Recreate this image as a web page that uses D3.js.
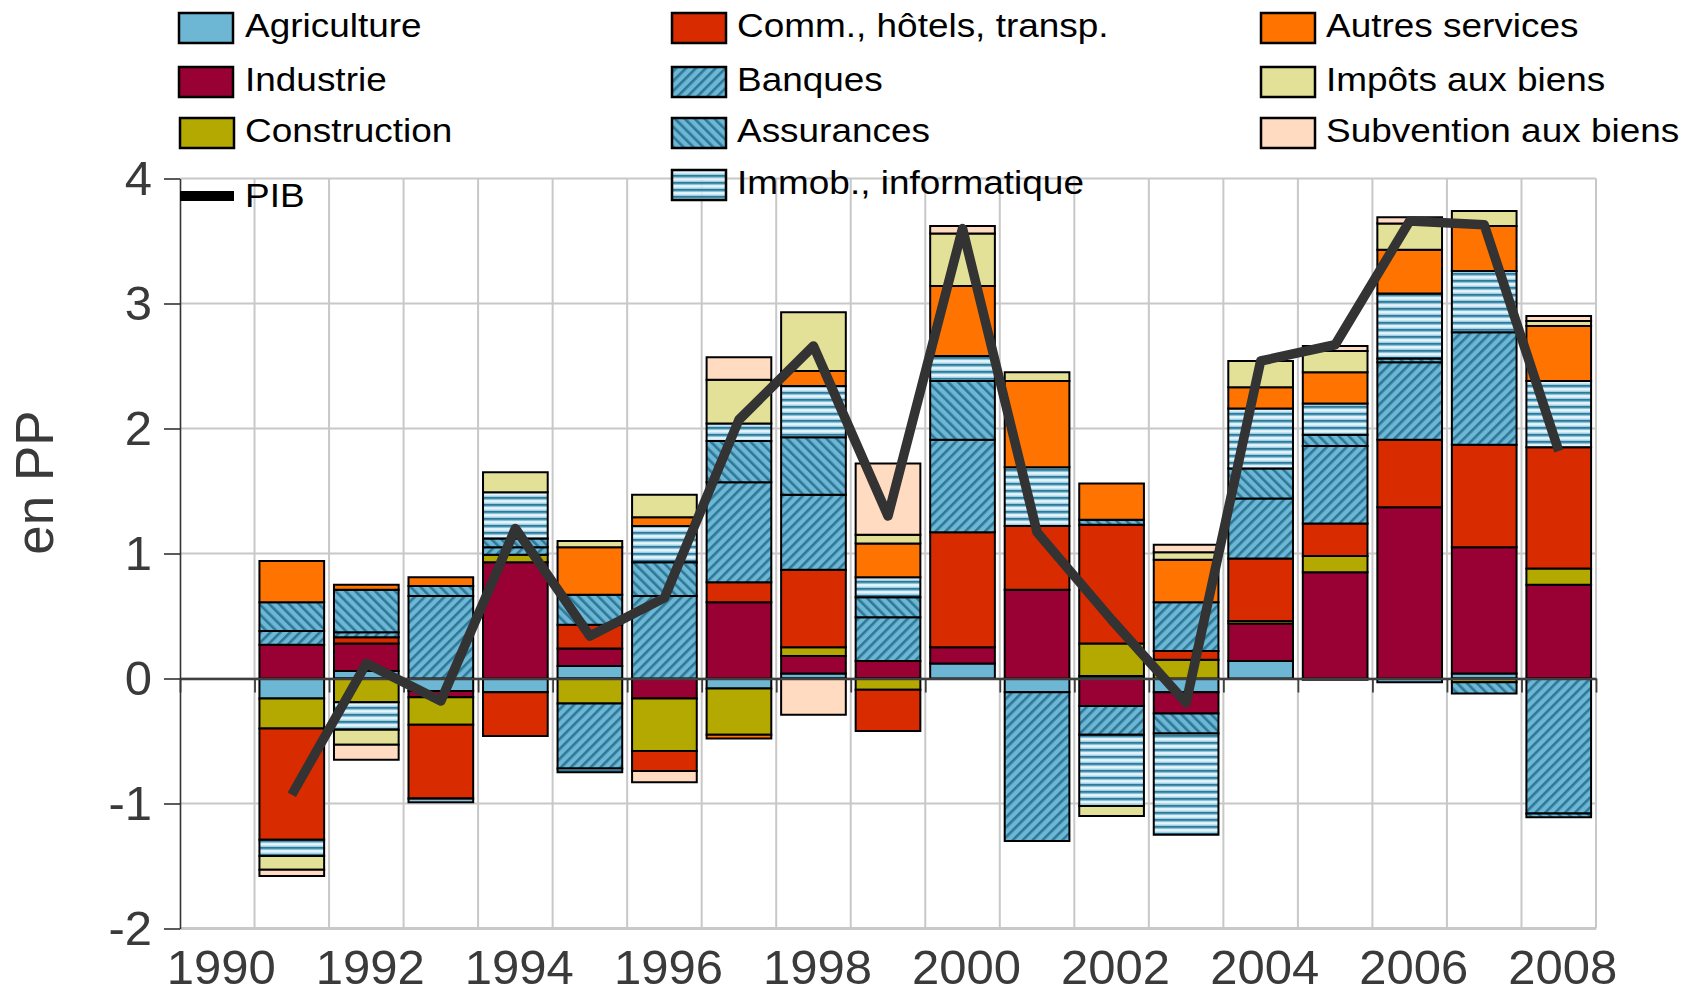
<!DOCTYPE html>
<html><head><meta charset="utf-8">
<script src="https://cdn.jsdelivr.net/npm/d3@7"></script>
<style>body{margin:0;background:#fff;} svg{display:block;font-family:"Liberation Sans",Arial,sans-serif;}</style>
</head><body><svg id="chart" width="1702" height="995"></svg>
<script>
// ---------- DATA ----------
const categories = ["1990","1991","1992","1993","1994","1995","1996","1997","1998","1999","2000","2001","2002","2003","2004","2005","2006","2007","2008"];
const years = ["1991","1992","1993","1994","1995","1996","1997","1998","1999","2000","2001","2002","2003","2004","2005","2006","2007","2008"];
const xLabels = ["1990","1992","1994","1996","1998","2000","2002","2004","2006","2008"];
const yTicks = [-2,-1,0,1,2,3,4];

const agriculture  = [-0.16, 0.06,-0.10,-0.11, 0.10, 0.00,-0.08, 0.04, 0.00, 0.12,-0.11, 0.02,-0.11, 0.14,-0.01,-0.03, 0.04, 0.00];
const industrie    = [ 0.27, 0.22,-0.05, 0.93, 0.14,-0.16, 0.61, 0.14, 0.14, 0.13, 0.71,-0.22,-0.17, 0.30, 0.85, 1.37, 1.01, 0.75];
const construction = [-0.24,-0.19,-0.22, 0.06,-0.20,-0.42,-0.37, 0.07,-0.09, 0.00, 0.00, 0.26, 0.15, 0.02, 0.13, 0.00,-0.03, 0.13];
const commerce     = [-0.89, 0.05,-0.59,-0.35, 0.19,-0.16, 0.16, 0.62,-0.33, 0.92, 0.51, 0.95, 0.07, 0.50, 0.26, 0.54, 0.82, 0.97];
const banques      = [ 0.11, 0.04, 0.66, 0.06,-0.52, 0.66, 0.80, 0.60, 0.35, 0.74,-1.19,-0.23, 0.39, 0.48, 0.62, 0.62, 0.90,-1.08];
const assurances   = [ 0.23, 0.34, 0.08, 0.07, 0.24, 0.27, 0.33, 0.46, 0.16, 0.47, 0.00, 0.04,-0.16, 0.24, 0.09, 0.03,-0.09,-0.03];
const immobilier   = [-0.13,-0.22,-0.03, 0.37,-0.03, 0.29, 0.14, 0.41, 0.16, 0.20, 0.47,-0.57,-0.81, 0.48, 0.25, 0.52, 0.49, 0.53];
const autresServ   = [ 0.33, 0.04, 0.07, 0.00, 0.38, 0.07,-0.03, 0.12, 0.27, 0.56, 0.69, 0.29, 0.34, 0.17, 0.25, 0.35, 0.36, 0.44];
const impots       = [-0.11,-0.12, 0.00, 0.16, 0.05, 0.18, 0.35, 0.47, 0.07, 0.42, 0.07,-0.08, 0.06, 0.21, 0.17, 0.21, 0.12, 0.04];
const subventions  = [-0.05,-0.12, 0.00, 0.00, 0.00,-0.09, 0.18,-0.29, 0.57, 0.06, 0.00, 0.00, 0.06, 0.00, 0.04, 0.05, 0.00, 0.04];
const pib          = [-0.93, 0.12,-0.18, 1.20, 0.34, 0.645,2.07, 2.66, 1.30, 3.60, 1.17, 0.47,-0.195,2.54, 2.67, 3.66, 3.63, 1.82];

const seriesNames = ["Agriculture","Industrie","Construction","Comm., hôtels, transp.","Banques","Assurances","Immob., informatique","Autres services","Impôts aux biens","Subvention aux biens"];
const seriesValues = [agriculture,industrie,construction,commerce,banques,assurances,immobilier,autresServ,impots,subventions];
const seriesFills = ["#6db6d4","#990033","#b3a900","#d92b00","url(#pBanq)","url(#pAssur)","url(#pImmob)","#ff7300","#e3e197","#ffdcc1"];

// ---------- SETUP ----------
const svg = d3.select("#chart");
const plotLeft = 180, plotRight = 1596, plotTop = 178.5, plotBottom = 928.5;

const x = d3.scaleBand().domain(categories).range([plotLeft, plotRight]).padding(0);
const xb = d3.scaleLinear().domain([0, categories.length]).range([plotLeft, plotRight]);
const y = d3.scaleLinear().domain([-2, 4]).range([plotBottom, plotTop]);

// patterns
const defs = svg.append("defs");
function hatch(id, angle) {
  const p = defs.append("pattern").attr("id", id).attr("patternUnits", "userSpaceOnUse")
    .attr("width", 7).attr("height", 7).attr("patternTransform", `rotate(${angle})`);
  p.append("rect").attr("width", 7).attr("height", 7).attr("fill", "#6db6d4");
  p.append("rect").attr("x", 0).attr("width", 2.6).attr("height", 7).attr("fill", "#2d7898");
}
hatch("pBanq", 45);
hatch("pAssur", -45);
const pi = defs.append("pattern").attr("id", "pImmob").attr("patternUnits", "userSpaceOnUse")
  .attr("width", 7).attr("height", 7);
[[0,1.9,"#2e7898"],[1.9,1.5,"#86c4de"],[3.4,2.1,"#e6f4fa"],[5.5,1.5,"#9ccfe4"]].forEach(([yy,h,c]) =>
  pi.append("rect").attr("x",0).attr("y",yy).attr("width",7).attr("height",h).attr("fill",c));

// gridlines
const grid = svg.append("g");
grid.selectAll("line.h").data(yTicks).join("line").attr("class","h")
  .attr("x1", plotLeft).attr("x2", plotRight)
  .attr("y1", d => y(d)).attr("y2", d => y(d))
  .attr("stroke", "#c8c8c8").attr("stroke-width", d => d === -2 ? 3 : 2);
grid.selectAll("line.v").data(d3.range(1, categories.length + 1)).join("line").attr("class","v")
  .attr("x1", d => xb(d)).attr("x2", d => xb(d))
  .attr("y1", plotTop).attr("y2", plotBottom)
  .attr("stroke", "#c8c8c8").attr("stroke-width", 2);

// stacked bars
const rows = years.map((yr, i) => {
  const r = {year: yr};
  seriesValues.forEach((arr, k) => r["s" + k] = arr[i]);
  return r;
});
const keys = seriesValues.map((_, k) => "s" + k);
const stacked = d3.stack().keys(keys).offset(d3.stackOffsetDiverging)(rows);
const bw = x.bandwidth() * 0.868;
const barG = svg.append("g");
stacked.forEach((layer, k) => {
  barG.append("g").selectAll("rect")
    .data(layer.filter(d => Math.abs(d[1] - d[0]) > 1e-9))
    .join("rect")
    .attr("x", d => x(d.data.year) + (x.bandwidth() - bw) / 2)
    .attr("width", bw)
    .attr("y", d => y(Math.max(d[0], d[1])))
    .attr("height", d => Math.abs(y(d[0]) - y(d[1])))
    .attr("fill", seriesFills[k])
    .attr("stroke", "#000").attr("stroke-width", 2);
});

// zero axis with ticks at category boundaries
const zeroAxis = svg.append("g").attr("transform", `translate(0,${y(0)})`)
  .call(d3.axisBottom(xb).tickValues(d3.range(0, categories.length + 1)).tickSize(14).tickSizeOuter(0).tickFormat(""));
zeroAxis.select(".domain").attr("stroke", "#404040").attr("stroke-width", 2.5);
zeroAxis.selectAll(".tick line").attr("stroke", "#404040").attr("stroke-width", 1.8);

// left axis
const yAxisG = svg.append("g").attr("transform", `translate(${plotLeft},0)`)
  .call(d3.axisLeft(y).tickValues(yTicks).tickSize(16).tickSizeOuter(0).tickPadding(12).tickFormat(d => String(d)));
yAxisG.select(".domain").attr("stroke", "#333").attr("stroke-width", 1.6);
yAxisG.selectAll(".tick line").attr("stroke", "#333").attr("stroke-width", 1.6);
yAxisG.selectAll(".tick text").attr("font-size", 49).attr("fill", "#3a3a3a")
  .attr("font-family", '"Liberation Sans",Arial,sans-serif');

// bottom labels
const xAxisG = svg.append("g").attr("transform", `translate(0,${plotBottom})`)
  .call(d3.axisBottom(x).tickValues(xLabels).tickSize(0).tickPadding(21));
xAxisG.select(".domain").remove();
xAxisG.selectAll(".tick text").attr("font-size", 49).attr("fill", "#3a3a3a").attr("dx", 4)
  .attr("font-family", '"Liberation Sans",Arial,sans-serif');

// PIB line
const line = d3.line().x((d, i) => x(years[i]) + x.bandwidth() / 2).y(d => y(d));
svg.append("path").datum(pib).attr("d", line)
  .attr("fill", "none").attr("stroke", "#333333").attr("stroke-width", 9.5)
  .attr("stroke-linejoin", "round");

// y title
svg.append("text").attr("transform", "translate(52.5,482.5) rotate(-90)")
  .attr("text-anchor", "middle").attr("font-size", 53).attr("fill", "#3a3a3a").text("en PP");

// legend
const legendItems = [
  {k:0, sx:179, tx:245, cy:28},
  {k:1, sx:179, tx:245, cy:82},
  {k:2, sx:180, tx:245, cy:133},
  {k:3, sx:672, tx:737, cy:28},
  {k:4, sx:672, tx:737, cy:82},
  {k:5, sx:672, tx:737, cy:133},
  {k:6, sx:672, tx:737, cy:185},
  {k:7, sx:1261, tx:1326, cy:28},
  {k:8, sx:1261, tx:1326, cy:82},
  {k:9, sx:1261, tx:1326, cy:133}
];
const leg = svg.append("g");
legendItems.forEach(it => {
  leg.append("rect").attr("x", it.sx).attr("y", it.cy - 15).attr("width", 54).attr("height", 30)
    .attr("fill", seriesFills[it.k]).attr("stroke", "#000").attr("stroke-width", 2.5);
  leg.append("text").attr("transform", `translate(${it.tx},${it.cy + 9}) scale(1.12,1)`)
    .attr("font-size", 33).attr("fill", "#000").text(seriesNames[it.k]);
});
leg.append("line").attr("x1", 180).attr("x2", 234).attr("y1", 196).attr("y2", 196)
  .attr("stroke", "#000").attr("stroke-width", 10);
leg.append("text").attr("transform", `translate(245,206.5) scale(1.12,1)`)
  .attr("font-size", 33).attr("fill", "#000").text("PIB");
</script>
</body></html>
